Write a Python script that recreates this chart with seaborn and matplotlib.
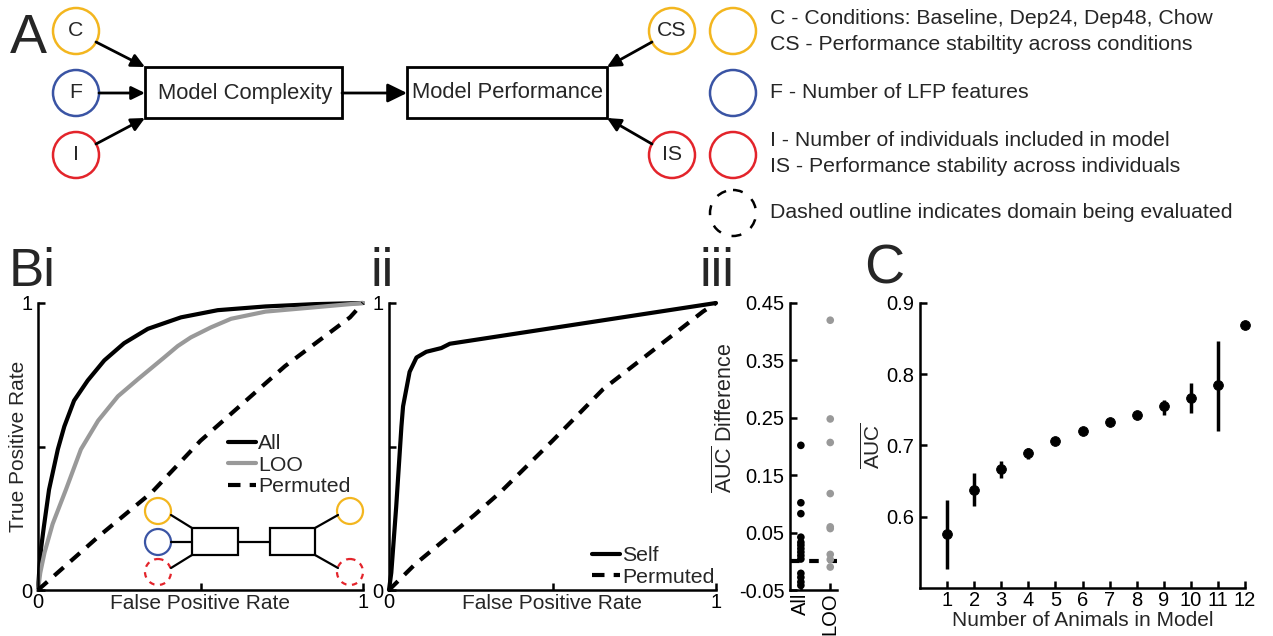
import numpy as np
import pandas as pd
import matplotlib.pyplot as plt
from matplotlib.patches import Ellipse, Rectangle
import seaborn as sns

# ---- Bi: ROC curves ----
fpr_all = [0, 0.004, 0.010, 0.018, 0.034, 0.061, 0.081, 0.111, 0.153, 0.204, 0.265, 0.338, 0.44, 0.553, 0.70, 0.85, 1.0]
tpr_all = [0, 0.07, 0.15, 0.22, 0.35, 0.49, 0.57, 0.66, 0.73, 0.80, 0.86, 0.91, 0.95, 0.975, 0.988, 0.996, 1.0]
fpr_loo = [0, 0.007, 0.020, 0.045, 0.086, 0.132, 0.185, 0.246, 0.308, 0.388, 0.43, 0.47, 0.532, 0.594, 0.70, 0.85, 1.0]
tpr_loo = [0, 0.06, 0.13, 0.23, 0.35, 0.49, 0.59, 0.675, 0.735, 0.81, 0.85, 0.88, 0.915, 0.945, 0.97, 0.985, 1.0]
fpr_perm_i = [0, 0.09, 0.19, 0.35, 0.50, 0.60, 0.76, 0.96, 1.0]
tpr_perm_i = [0, 0.09, 0.19, 0.34, 0.52, 0.62, 0.78, 0.95, 1.0]

# ---- ii: self vs permuted ----
fpr_self = [0, 0.007, 0.022, 0.038, 0.043, 0.063, 0.084, 0.114, 0.16, 0.186, 1.0]
tpr_self = [0, 0.06, 0.29, 0.57, 0.64, 0.76, 0.81, 0.83, 0.843, 0.858, 1.0]
fpr_perm_ii = [0, 0.08, 0.26, 0.34, 0.42, 0.50, 0.655, 0.96, 1.0]
tpr_perm_ii = [0, 0.09, 0.26, 0.34, 0.43, 0.52, 0.70, 0.97, 1.0]

# ---- iii: AUC difference ----
auc_diff_all = [0.202, 0.102, 0.083, 0.042, 0.033, 0.028, 0.022, 0.016, 0.010, 0.004,
                -0.021, -0.028, -0.036, -0.042]
auc_diff_loo = [0.42, 0.248, 0.207, 0.118, 0.06, 0.057, 0.012, 0.003, -0.01]

# ---- C: AUC vs number of animals ----
n_animals = list(range(1, 13))
auc_mean = [0.576, 0.638, 0.667, 0.690, 0.706, 0.721, 0.733, 0.743, 0.755, 0.767, 0.785, 0.869]
auc_lo = [0.527, 0.615, 0.654, 0.681, 0.702, 0.718, 0.729, 0.737, 0.743, 0.745, 0.721, 0.866]
auc_hi = [0.623, 0.661, 0.678, 0.696, 0.710, 0.724, 0.737, 0.748, 0.764, 0.788, 0.847, 0.872]

YELLOW, BLUE, RED, GRAY = "#F3B61F", "#3A54A4", "#E3242B", "#999999"
FS_LAB, FS_TICK, FS_TXT = 15, 14.5, 15.3

sns.set_style("ticks")
plt.rcParams["font.family"] = ["Liberation Sans", "DejaVu Sans"]
plt.rcParams["mathtext.fontset"] = "custom"
plt.rcParams["mathtext.rm"] = "Liberation Sans"
plt.rcParams["axes.linewidth"] = 1.8

W, H = 1273, 636
fig = plt.figure(figsize=(W / 100, H / 100), dpi=100)


def rect(x0, y0, x1, y1):
    return [x0 / W, 1 - y1 / H, (x1 - x0) / W, (y1 - y0) / H]


def style(ax):
    sns.despine(ax=ax)
    ax.tick_params(direction="in", length=5, width=1.8, labelsize=FS_TICK, colors="k")
    ax.tick_params(axis="y", pad=4)
    ax.tick_params(axis="x", pad=2)
    for s in ("left", "bottom"):
        ax.spines[s].set_color("k")


def legend_at(ax, x, y):
    ax.legend(loc="upper left", bbox_to_anchor=(x / W, 1 - y / H), bbox_transform=fig.transFigure,
              frameon=False, handlelength=1.3, handletextpad=0.12, labelspacing=0.12, borderpad=0,
              borderaxespad=0, fontsize=FS_TXT)


# Bi
ax1 = fig.add_axes(rect(38, 303, 363, 590))
sns.lineplot(x=fpr_all, y=tpr_all, color="k", lw=3, label="All", ax=ax1)
sns.lineplot(x=fpr_loo, y=tpr_loo, color=GRAY, lw=3, label="LOO", ax=ax1)
sns.lineplot(x=fpr_perm_i, y=tpr_perm_i, color="k", lw=3, label="Permuted", ax=ax1)
ax1.lines[-1].set_dashes((3, 2.2))
for ln in ax1.lines:
    ln.set_clip_on(False)
ax1.set_xlim(0, 1)
ax1.set_ylim(0, 1)
ax1.set_xticks([0, 0.5, 1], ["0", "", "1"])
ax1.set_yticks([0, 0.5, 1], ["0", "", "1"])
style(ax1)
ax1.set_xlabel("False Positive Rate", fontsize=FS_LAB)
ax1.set_ylabel("True Positive Rate", fontsize=FS_LAB)
ax1.xaxis.set_label_coords(0.5, -0.015)
ax1.yaxis.set_label_coords(-0.03, 0.5)
legend_at(ax1, 228, 434)

# ii
ax2 = fig.add_axes(rect(389, 303, 716, 590))
sns.lineplot(x=fpr_self, y=tpr_self, color="k", lw=3, label="Self", ax=ax2)
sns.lineplot(x=fpr_perm_ii, y=tpr_perm_ii, color="k", lw=3, label="Permuted", ax=ax2)
ax2.lines[-1].set_dashes((3, 2.2))
for ln in ax2.lines:
    ln.set_clip_on(False)
ax2.set_xlim(0, 1)
ax2.set_ylim(0, 1)
ax2.set_xticks([0, 0.5, 1], ["0", "", "1"])
ax2.set_yticks([0, 0.5, 1], ["0", "", "1"])
style(ax2)
ax2.set_xlabel("False Positive Rate", fontsize=FS_LAB)
ax2.xaxis.set_label_coords(0.5, -0.015)
legend_at(ax2, 592, 546)

# iii
ax3 = fig.add_axes(rect(790, 303, 837, 590))
diff_df = pd.DataFrame({
    "model": ["All"] * len(auc_diff_all) + ["LOO"] * len(auc_diff_loo),
    "diff": auc_diff_all + auc_diff_loo,
})
sns.stripplot(data=diff_df, x="model", y="diff", hue="model", palette={"All": "k", "LOO": GRAY},
              jitter=False, size=5.5, legend=False, ax=ax3, clip_on=False)
ax3.axhline(0, color="k", lw=3, dashes=(2.3, 2.3), clip_on=False)
ax3.set_xlim(-0.37, 1.23)
ax3.set_ylim(-0.05, 0.45)
ax3.set_yticks([-0.05, 0.05, 0.15, 0.25, 0.35, 0.45], ["-0.05", "0.05", "0.15", "0.25", "0.35", "0.45"])
style(ax3)
ax3.set_xticks([0, 1], ["All", "LOO"], rotation=90)
ax3.set_xlabel("")
ax3.set_ylabel(r"$\overline{\mathrm{AUC}}$ Difference", fontsize=15.5)
ax3.yaxis.set_label_coords(-1.12, 0.6)

# C
ax4 = fig.add_axes(rect(920, 303, 1245, 588))
ax4.vlines(n_animals, auc_lo, auc_hi, color="k", lw=2.5)
sns.scatterplot(x=n_animals, y=auc_mean, color="k", s=50, edgecolor="k", ax=ax4, clip_on=False, zorder=3)
ax4.set_xlim(0, 12)
ax4.set_ylim(0.5, 0.9)
ax4.set_xticks(n_animals)
ax4.set_yticks([0.6, 0.7, 0.8, 0.9])
style(ax4)
ax4.set_xlabel("Number of Animals in Model", fontsize=FS_LAB, labelpad=1)
ax4.set_ylabel(r"$\overline{\mathrm{AUC}}$", fontsize=FS_LAB)
ax4.yaxis.set_label_coords(-0.11, 0.5)

# panel letters
fig.text(10 / W, 1 - 53 / H, "A", fontsize=40, va="baseline")
fig.text(9 / W, 1 - 286 / H, "Bi", fontsize=38, va="baseline")
fig.text(370 / W, 1 - 286 / H, "ii", fontsize=38, va="baseline")
fig.text(699 / W, 1 - 286 / H, "iii", fontsize=38, va="baseline")
fig.text(864 / W, 1 - 284 / H, "C", fontsize=40, va="baseline")

# schematic overlay (pixel coordinates)
ov = fig.add_axes([0, 0, 1, 1], zorder=10)
ov.set_xlim(0, W)
ov.set_ylim(H, 0)
ov.axis("off")
ov.patch.set_alpha(0)


def circle(x, y, r, color, lw=1.8, ls="-"):
    ov.add_patch(Ellipse((x, y), 2 * r, 2 * r, fill=False, ec=color, lw=lw, ls=ls))


def arrow(p0, p1, scale=18):
    ov.annotate("", xy=p1, xytext=p0,
                arrowprops=dict(arrowstyle="-|>,head_length=0.45,head_width=0.22", color="k",
                                lw=2, shrinkA=0, shrinkB=0, mutation_scale=scale))


for (x, y, c, t) in [(76, 31, YELLOW, "C"), (76, 93, BLUE, "F"), (76, 155, RED, "I"),
                     (672, 31, YELLOW, "CS"), (672, 155, RED, "IS")]:
    circle(x, y, 23, c)
    ov.text(x, y, t, ha="center", va="center", fontsize=FS_TXT)

ov.add_patch(Rectangle((145, 67), 197, 51, fill=False, ec="k", lw=2))
ov.add_patch(Rectangle((407, 67), 200, 51, fill=False, ec="k", lw=2))
ov.text(245, 93, "Model Complexity", ha="center", va="center", fontsize=15.8)
ov.text(507, 93, "Model Performance", ha="center", va="center", fontsize=15.8)

arrow((96, 42), (145, 67))
arrow((99, 93), (145, 93))
arrow((96, 144), (145, 118))
arrow((342, 93), (407, 93), scale=26)
arrow((652, 42), (607, 67))
arrow((652, 144), (607, 118))

circle(733, 31, 23, YELLOW)
circle(733, 93, 23, BLUE)
circle(733, 155, 23, RED)
circle(733, 213, 23, "k", ls=(0, (4, 4.5)))
for (y, t) in [(18, "C - Conditions: Baseline, Dep24, Dep48, Chow"),
               (45, "CS - Performance stabiltity across conditions"),
               (93, "F - Number of LFP features"),
               (140, "I - Number of individuals included in model"),
               (167, "IS - Performance stability across individuals"),
               (213, "Dashed outline indicates domain being evaluated")]:
    ov.text(770, y, t, ha="left", va="center", fontsize=FS_TXT)

# inset schematic inside Bi
circle(158, 511, 13, YELLOW, lw=1.6)
circle(158, 542, 13, BLUE, lw=1.6)
circle(158, 572, 13, RED, lw=1.6, ls=(0, (2.5, 2.5)))
circle(350, 511, 13, YELLOW, lw=1.6)
circle(350, 572, 13, RED, lw=1.6, ls=(0, (2.5, 2.5)))
ov.add_patch(Rectangle((192, 528), 46, 27, fill=False, ec="k", lw=1.6))
ov.add_patch(Rectangle((270, 528), 45, 27, fill=False, ec="k", lw=1.6))
for (p0, p1) in [((171, 515), (192, 528)), ((171, 542), (192, 542)), ((171, 568), (192, 555)),
                 ((238, 542), (270, 542)), ((315, 528), (338, 515)), ((315, 555), (338, 568))]:
    ov.plot([p0[0], p1[0]], [p0[1], p1[1]], color="k", lw=1.6)

fig.savefig("out.png", dpi=100)
